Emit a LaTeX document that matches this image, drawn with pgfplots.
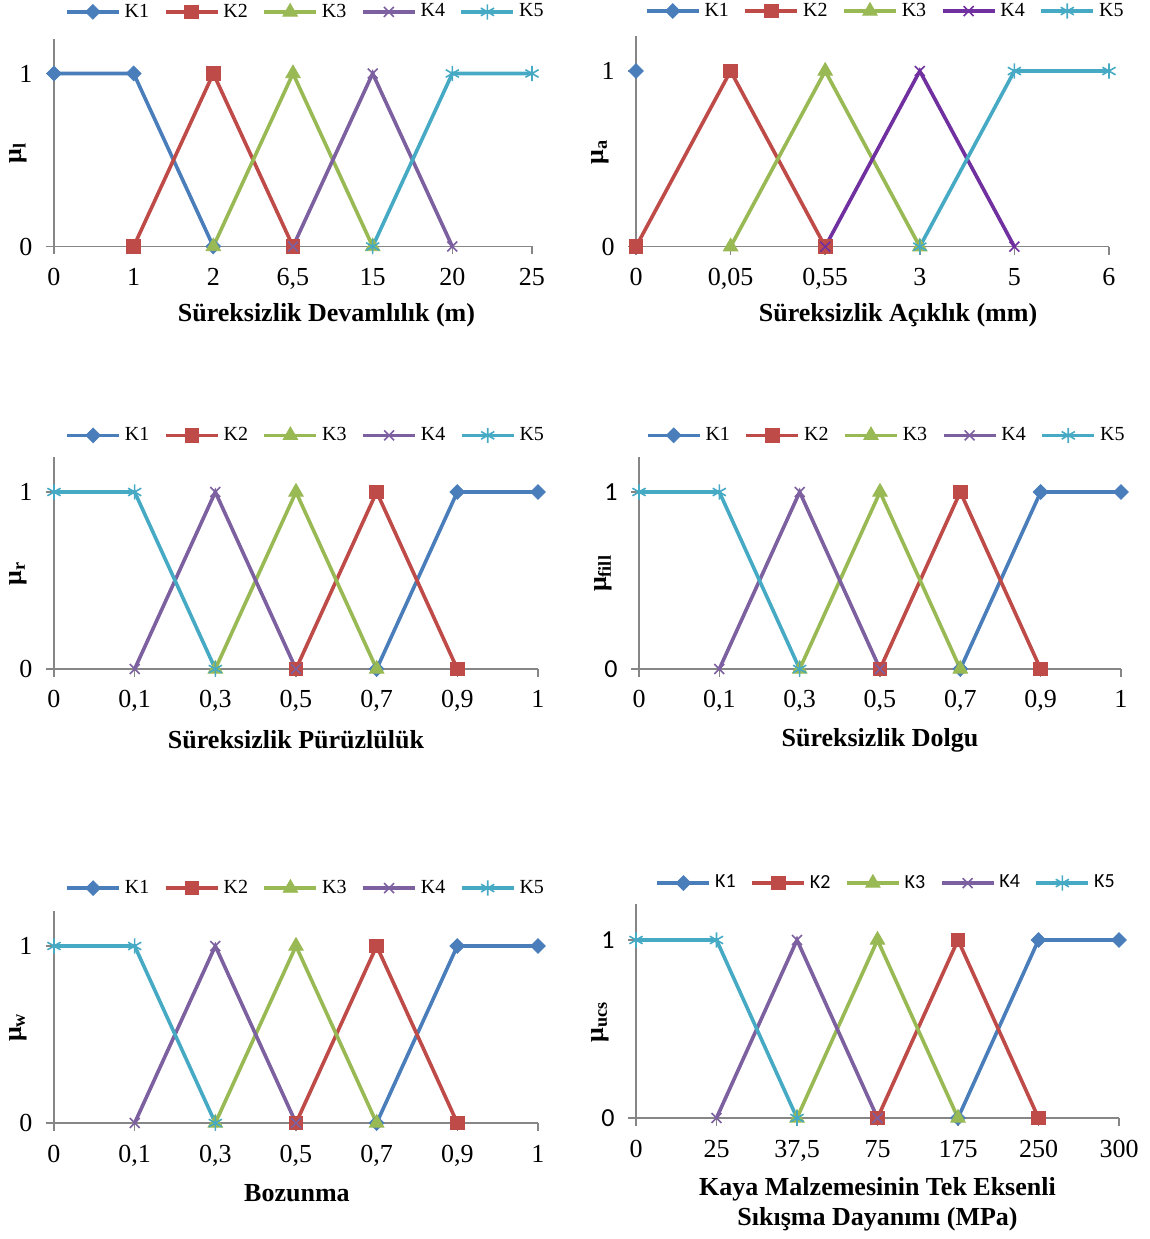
\documentclass[border=0pt]{standalone}
\usepackage{fontspec}
\setmainfont{Liberation Serif}
\newfontfamily\carlito{Carlito}
\usepackage{pgfplots}
\pgfplotsset{compat=1.18}
\definecolor{cA}{HTML}{4A7EBB}
\definecolor{cB}{HTML}{BE4B48}
\definecolor{cC}{HTML}{98B954}
\definecolor{cD}{HTML}{7D60A0}
\definecolor{cDd}{HTML}{7030A0}
\definecolor{cE}{HTML}{46AAC5}
\definecolor{axgray}{HTML}{868686}
\newcommand{\tkfont}{\fontsize{13}{15}\selectfont}
\newcommand{\lgfont}{\fontsize{10}{12}\selectfont}
\pgfplotsset{
  mf/.style={
    scale only axis,
    axis lines*=left,
    xmin=0, ymin=0, ymax=1.2,
    ytick={0,1}, yticklabels={0,1},
    tick align=outside,
    major tick length=4pt,
    every tick/.style={draw=axgray, line width=0.75pt},
    axis line style={draw=axgray, line width=0.75pt},
    tick label style={font=\tkfont},
    xticklabel style={anchor=base, yshift=-15.5pt},
    yticklabel style={anchor=center, xshift=-10pt},
    ylabel style={at={(axis description cs:0,0.45)}, anchor=center, yshift=18pt, font=\bfseries\tkfont},
    xlabel style={font=\bfseries\fontsize{13}{15}\selectfont, align=center},
    legend columns=5,
    legend style={draw=none, fill=none, anchor=center, font=\lgfont,
      inner xsep=0pt, inner ysep=0pt,
      nodes={inner xsep=2pt, inner ysep=1pt},
      /tikz/every even column/.append style={column sep=5.3pt}},
    legend image code/.code={\draw[mark repeat=2,mark phase=2,##1] plot coordinates {(0pt,0pt)(13pt,0pt)(26pt,0pt)};},
    clip=false,
  },
  k1/.style={color=cA, line width=1.8pt, mark=square*, mark options={rotate=45, solid, line width=0.4pt}, mark size=2.6pt},
  k2/.style={color=cB, line width=1.8pt, mark=square*, mark options={solid, line width=0.4pt}, mark size=3.4pt},
  k3/.style={color=cC, line width=1.8pt, mark=triangle*, mark options={solid, line width=0.4pt}, mark size=4.2pt},
  k4/.style={color=cD, line width=1.8pt, mark=x, mark options={solid, line width=0.8pt}, mark size=3.5pt},
  k4d/.style={color=cDd, line width=1.8pt, mark=x, mark options={solid, line width=0.8pt}, mark size=3.5pt},
  k5/.style={color=cE, line width=1.8pt, mark=asterisk, mark options={solid, line width=0.8pt}, mark size=3.8pt},
}
\begin{document}
\begin{tikzpicture}
\useasboundingbox (0pt,0pt) rectangle (575pt,619.5pt);

% ---------- Chart 1 ----------
\begin{axis}[mf, at={(27pt,496.25pt)}, anchor=south west, width=239pt, height=103.8pt,
  xmax=6, xtick={0,1,2,3,4,5,6}, xticklabels={0,1,2,{6,5},15,20,25},
  ylabel={μ\textsubscript{l}},
  xlabel={Süreksizlik Devamlılık (m)},
  xlabel style={at={(axis description cs:0.57,0)}, anchor=center, yshift=-34.25pt},
  legend style={at={(axis description cs:0.528,1.13)}}]
\addplot[k1] coordinates {(0,1) (1,1) (2,0)};
\addplot[k2] coordinates {(1,0) (2,1) (3,0)};
\addplot[k3] coordinates {(2,0) (3,1) (4,0)};
\addplot[k4] coordinates {(3,0) (4,1) (5,0)};
\addplot[k5] coordinates {(4,0) (5,1) (6,1)};
\legend{K1,K2,K3,K4,K5}
\end{axis}

% ---------- Chart 2 ----------
\begin{axis}[mf, at={(318pt,496.15pt)}, anchor=south west, width=236.5pt, height=105.4pt,
  xmax=5, xtick={0,1,2,3,4,5}, xticklabels={0,{0,05},{0,55},3,5,6},
  ylabel={μ\textsubscript{a}},
  xlabel={Süreksizlik Açıklık (mm)},
  xlabel style={at={(axis description cs:0.554,0)}, anchor=center, yshift=-34.5pt},
  legend style={at={(axis description cs:0.529,1.118)}}]
\addplot[k1] coordinates {(0,1)};
\addplot[k2] coordinates {(0,0) (1,1) (2,0)};
\addplot[k3] coordinates {(1,0) (2,1) (3,0)};
\addplot[k4d] coordinates {(2,0) (3,1) (4,0)};
\addplot[k5] coordinates {(3,0) (4,1) (5,1)};
\legend{K1,K2,K3,K4,K5}
\end{axis}

% ---------- Chart 3 ----------
\begin{axis}[mf, at={(27pt,285pt)}, anchor=south west, width=242pt, height=106.2pt,
  xmax=6, xtick={0,1,2,3,4,5,6}, xticklabels={0,{0,1},{0,3},{0,5},{0,7},{0,9},1},
  ylabel={μ\textsubscript{r}},
  xlabel={Süreksizlik Pürüzlülük},
  xlabel style={at={(axis description cs:0.5,0)}, anchor=center, yshift=-35.5pt},
  legend style={at={(axis description cs:0.522,1.10)}}]
\addplot[k1] coordinates {(4,0) (5,1) (6,1)};
\addplot[k2] coordinates {(3,0) (4,1) (5,0)};
\addplot[k3] coordinates {(2,0) (3,1) (4,0)};
\addplot[k4] coordinates {(1,0) (2,1) (3,0)};
\addplot[k5] coordinates {(0,1) (1,1) (2,0)};
\legend{K1,K2,K3,K4,K5}
\end{axis}

% ---------- Chart 4 ----------
\begin{axis}[mf, at={(319.5pt,285pt)}, anchor=south west, width=241pt, height=106.2pt,
  xmax=6, xtick={0,1,2,3,4,5,6}, xticklabels={0,{0,1},{0,3},{0,5},{0,7},{0,9},1},
  yticklabel style={font=\carlito\fontsize{13}{15}\selectfont},
  ylabel={μ\textsubscript{fill}},
  xlabel={Süreksizlik Dolgu},
  xlabel style={at={(axis description cs:0.5,0)}, anchor=center, yshift=-35.5pt},
  legend style={at={(axis description cs:0.515,1.10)}}]
\addplot[k1] coordinates {(4,0) (5,1) (6,1)};
\addplot[k2] coordinates {(3,0) (4,1) (5,0)};
\addplot[k3] coordinates {(2,0) (3,1) (4,0)};
\addplot[k4] coordinates {(1,0) (2,1) (3,0)};
\addplot[k5] coordinates {(0,1) (1,1) (2,0)};
\legend{K1,K2,K3,K4,K5}
\end{axis}

% ---------- Chart 5 ----------
\begin{axis}[mf, at={(27pt,58pt)}, anchor=south west, width=242pt, height=106.2pt,
  xmax=6, xtick={0,1,2,3,4,5,6}, xticklabels={0,{0,1},{0,3},{0,5},{0,7},{0,9},1},
  ylabel={μ\textsubscript{w}},
  xlabel={Bozunma},
  xlabel style={at={(axis description cs:0.502,0)}, anchor=center, yshift=-35pt},
  legend style={at={(axis description cs:0.522,1.106)}}]
\addplot[k1] coordinates {(4,0) (5,1) (6,1)};
\addplot[k2] coordinates {(3,0) (4,1) (5,0)};
\addplot[k3] coordinates {(2,0) (3,1) (4,0)};
\addplot[k4] coordinates {(1,0) (2,1) (3,0)};
\addplot[k5] coordinates {(0,1) (1,1) (2,0)};
\legend{K1,K2,K3,K4,K5}
\end{axis}

% ---------- Chart 6 ----------
\begin{axis}[mf, at={(318pt,60.5pt)}, anchor=south west, width=241.5pt, height=106.8pt,
  xmax=6, xtick={0,1,2,3,4,5,6}, xticklabels={0,25,{37,5},75,175,250,300},
  yticklabel style={font=\carlito\fontsize{13}{15}\selectfont},
  ylabel={μ\textsubscript{ucs}},
  xlabel={Kaya Malzemesinin Tek Eksenli\\Sıkışma Dayanımı (MPa)},
  xlabel style={at={(axis description cs:0.5,0)}, anchor=center, yshift=-43pt},
  legend style={at={(axis description cs:0.52,1.10)}, font=\carlito\fontsize{10}{12}\selectfont}]
\addplot[k1] coordinates {(4,0) (5,1) (6,1)};
\addplot[k2] coordinates {(3,0) (4,1) (5,0)};
\addplot[k3] coordinates {(2,0) (3,1) (4,0)};
\addplot[k4] coordinates {(1,0) (2,1) (3,0)};
\addplot[k5] coordinates {(0,1) (1,1) (2,0)};
\legend{K1,K2,K3,K4,K5}
\end{axis}
\end{tikzpicture}
\end{document}
